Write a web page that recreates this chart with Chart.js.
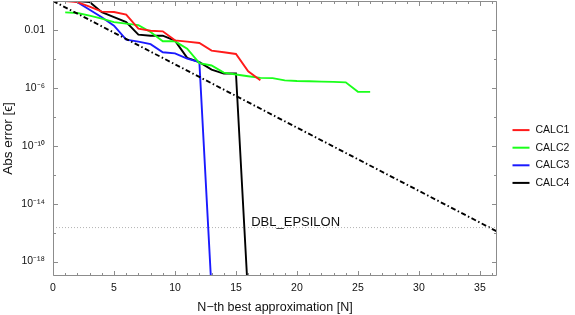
<!DOCTYPE html>
<html>
<head>
<meta charset="utf-8">
<script src="https://cdn.jsdelivr.net/npm/chart.js@4"></script>
<style>
  html, body { margin: 0; padding: 0; background: #fff; }
</style>
</head>
<body>
<canvas id="err-chart" width="575" height="315"></canvas>
<script>
// N index of each approximation
const approxN = [1, 2, 3, 4, 5, 6, 7, 8, 9, 10, 11, 12, 13, 14, 15, 16, 17, 18, 19, 20, 21, 22, 23, 24, 25, 26];

// absolute error per method
const calc1Err = [1, 0.83, 0.405, 0.183, 0.174, 0.114, 0.0123, 0.0089, 0.0080, 0.0019, 0.00155, 0.00126, 3.7e-4, 2.9e-4, 2.2e-4, 1.4e-5, 3.3e-6];
const calc2Err = [0.164, 0.149, 0.097, 0.060, 0.0345, 0.0272, 0.0214, 0.0072, 0.00164, 0.00164, 5.1e-4, 5.1e-5, 3.5e-5, 1.13e-5, 8.3e-6, 6.3e-6, 4.9e-6, 4.7e-6, 3.3e-6, 3.0e-6, 2.85e-6, 2.7e-6, 2.6e-6, 2.4e-6, 5.3e-7, 5.3e-7];
const calc3Err = [1.5, 0.83, 0.25, 0.076, 0.0198, 0.00214, 0.00155, 0.00104, 2.85e-4, 2.43e-4, 1.05e-4, 6.0e-5, 1e-20];
const calc4Err = [1.5, 1, 0.85, 0.17, 0.076, 0.0345, 0.0047, 0.0040, 0.0040, 0.00183, 1.17e-4, 6.0e-5, 1.83e-5, 9.7e-6, 9.7e-6, 3e-21];

// dash-dot reference bound
const boundN = [0, 36.4];
const boundErr = [1, 1.2e-16];

// machine epsilon line
const epsN = [0, 36.4];
const epsErr = [2.22e-16, 2.22e-16];
const epsLabel = 'DBL_EPSILON';
const epsLabelN = 16.25;

const seriesNames = ['CALC1', 'CALC2', 'CALC3', 'CALC4'];
const seriesColors = ['#ff1a1a', '#1aff1a', '#1a1aff', '#000000'];

const xMax = 36.4;
const xLabelTicks = [0, 5, 10, 15, 20, 25, 30, 35];
const yTickExps = [0, -2, -4, -6, -8, -10, -12, -14, -16, -18];
const yLabelExps = [-2, -6, -10, -14, -18];
const yLabelText = ['0.01', '10\u207B\u2076', '10\u207B\u00B9\u2070', '10\u207B\u00B9\u2074', '10\u207B\u00B9\u2078'];

const FONT = "'Liberation Sans', Arial, sans-serif";
const frameColor = '#8c8c8c';

function toPoints(xs, ys) {
    return ys.map((v, i) => ({ x: xs[i], y: v }));
}

const allErr = [calc1Err, calc2Err, calc3Err, calc4Err];

const datasets = allErr.map((errs, i) => ({
    label: seriesNames[i],
    data: toPoints(approxN, errs),
    borderColor: seriesColors[i],
    backgroundColor: seriesColors[i],
    borderWidth: 1.9,
    pointRadius: 0,
    tension: 0
}));

datasets.unshift({
    label: 'bound',
    data: toPoints(boundN, boundErr),
    borderColor: '#000',
    borderWidth: 1.9,
    borderDash: [5, 2.5, 1.5, 2.5],
    pointRadius: 0
});

datasets.unshift({
    label: 'eps',
    data: toPoints(epsN, epsErr),
    borderColor: '#b4b4b4',
    borderWidth: 1,
    borderDash: [1, 2],
    pointRadius: 0
});

// frame with inward ticks on all four sides, epsilon label and the legend
const framePlugin = {
    id: 'frame',
    afterDatasetsDraw(chart) {
        const { ctx, chartArea: a, scales } = chart;
        const x = scales.x, y = scales.y;
        const L = Math.round(a.left) + 0.5, R = Math.round(a.right) - 0.5;
        const T = Math.round(a.top) + 0.5, B = Math.round(a.bottom) - 0.5;
        ctx.save();
        ctx.strokeStyle = frameColor;
        ctx.lineWidth = 1;
        ctx.beginPath();
        ctx.rect(L, T, R - L, B - T);
        for (let n = 0; n <= Math.floor(xMax); n++) {
            const px = Math.round(x.getPixelForValue(n)) + 0.5;
            const len = xLabelTicks.includes(n) ? 4.5 : 2.5;
            ctx.moveTo(px, B); ctx.lineTo(px, B - len);
            ctx.moveTo(px, T); ctx.lineTo(px, T + len);
        }
        yTickExps.forEach(e => {
            const py = Math.round(y.getPixelForValue(Math.pow(10, e))) + 0.5;
            const len = yLabelExps.includes(e) ? 4.5 : 2.5;
            ctx.moveTo(L, py); ctx.lineTo(L + len, py);
            ctx.moveTo(R, py); ctx.lineTo(R - len, py);
        });
        ctx.stroke();

        ctx.fillStyle = '#111';
        ctx.font = '13px ' + FONT;
        ctx.textAlign = 'left';
        ctx.textBaseline = 'alphabetic';
        ctx.fillText(epsLabel, x.getPixelForValue(epsLabelN), y.getPixelForValue(epsErr[0]) - 1.5);

        // legend, to the right of the frame
        ctx.font = '10.5px ' + FONT;
        ctx.textBaseline = 'middle';
        seriesNames.forEach((name, i) => {
            const rowY = chart.height / 2 - 1 + (i - 1.5) * 17.6;
            ctx.strokeStyle = seriesColors[i];
            ctx.lineWidth = 2;
            ctx.beginPath();
            ctx.moveTo(a.right + 15.5, rowY);
            ctx.lineTo(a.right + 32.5, rowY);
            ctx.stroke();
            ctx.fillText(name, a.right + 38.5, rowY);
        });
        ctx.restore();
    }
};

new Chart(document.getElementById('err-chart'), {
    type: 'line',
    data: { datasets: datasets },
    options: {
        responsive: false,
        animation: false,
        devicePixelRatio: 1,
        layout: { padding: { top: 1, right: 78, left: 0, bottom: 0 } },
        plugins: {
            tooltip: { enabled: false },
            legend: { display: false }
        },
        scales: {
            x: {
                type: 'linear',
                min: 0,
                max: xMax,
                grid: { display: false, drawTicks: false },
                border: { display: false },
                afterBuildTicks: scale => {
                    scale.ticks = xLabelTicks.map(v => ({ value: v }));
                },
                afterFit: scale => {
                    scale.height = 39;
                    scale.paddingLeft = 0;
                    scale.paddingRight = 0;
                },
                ticks: {
                    padding: 6,
                    color: '#111',
                    maxRotation: 0,
                    font: { family: FONT, size: 10.5 }
                },
                title: {
                    display: true,
                    text: 'N\u2212th best approximation [N]',
                    color: '#111',
                    padding: { top: 0, bottom: 0 },
                    font: { family: FONT, size: 12.5 }
                }
            },
            y: {
                type: 'logarithmic',
                min: 1e-19,
                max: 1,
                grid: { display: false, drawTicks: false },
                border: { display: false },
                afterBuildTicks: scale => {
                    scale.ticks = yLabelExps.map(e => ({ value: Math.pow(10, e) }));
                },
                afterFit: scale => {
                    scale.width = 53;
                    scale.paddingTop = 0;
                    scale.paddingBottom = 0;
                },
                ticks: {
                    padding: 8,
                    color: '#111',
                    font: { family: FONT, size: 10.5 },
                    callback: function (value) {
                        const e = Math.round(Math.log10(value));
                        const k = yLabelExps.indexOf(e);
                        return k >= 0 ? yLabelText[k] : '';
                    }
                },
                title: {
                    display: true,
                    text: 'Abs error [\u03F5]',
                    color: '#111',
                    padding: { top: 0, bottom: 0 },
                    font: { family: FONT, size: 13.5 }
                }
            }
        }
    },
    plugins: [framePlugin]
});
</script>
</body>
</html>
